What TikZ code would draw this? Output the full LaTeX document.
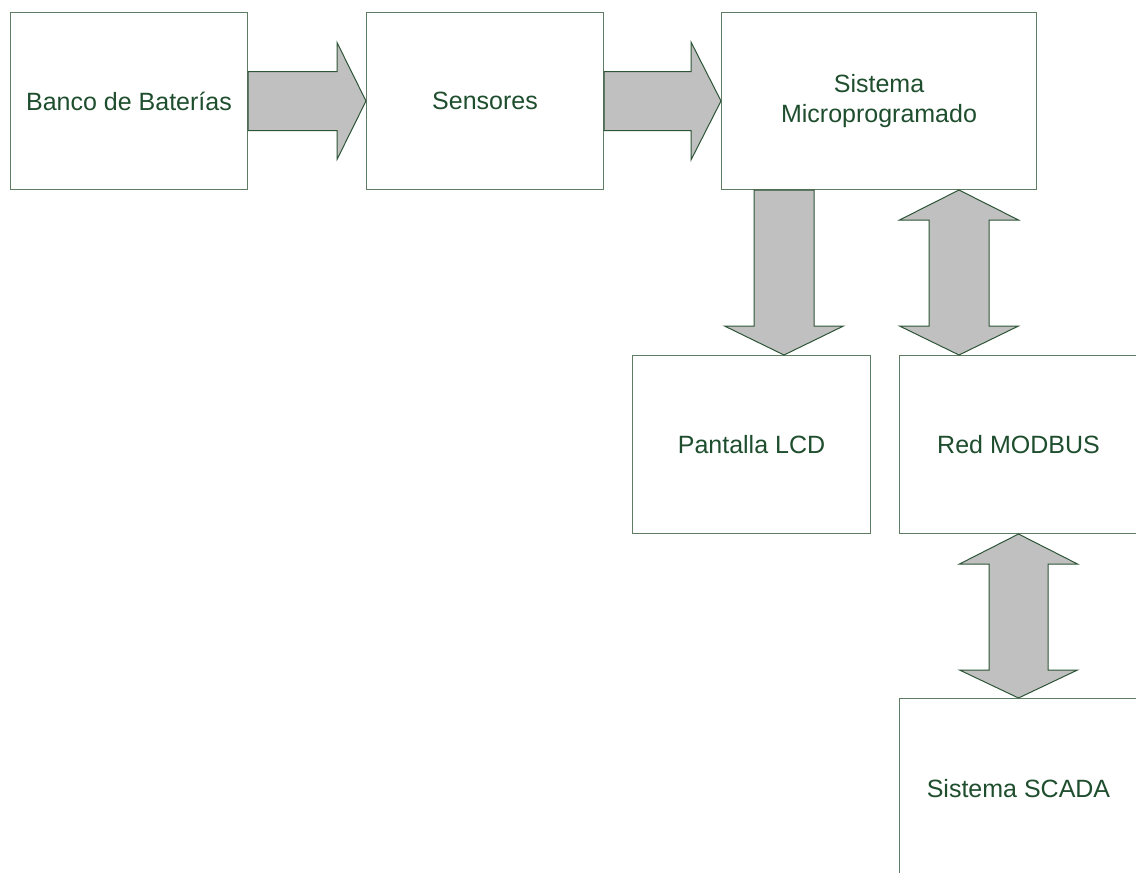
\documentclass[tikz,border=0pt]{standalone}
\usepackage{fontspec}
\setmainfont{Liberation Sans}
\usetikzlibrary{calc}
\definecolor{txtgreen}{RGB}{30,78,45}
\definecolor{boxline}{RGB}{95,125,100}
\definecolor{arrowline}{RGB}{45,85,55}
\definecolor{arrowfill}{RGB}{192,192,192}
\begin{document}
\begin{tikzpicture}[x=1pt,y=-1pt,
  block/.style={draw=boxline,line width=1pt,fill=white,anchor=north west,
    inner sep=0pt,text=txtgreen,font=\fontsize{25}{30}\selectfont,align=center},
  blockarrow/.style={draw=arrowline,fill=arrowfill,line width=1pt,line join=miter}]
\useasboundingbox (0,0) rectangle (1136,873);
\clip (0,0) rectangle (1136,873);
\fill[white] (0,0) rectangle (1136,873);

% blocks
\node[block,minimum width=237pt,minimum height=177pt] (bank) at (10,12) {Banco de Baterías};
\node[block,minimum width=237pt,minimum height=177pt] (sens) at (366,12) {Sensores};
\node[block,minimum width=315pt,minimum height=177pt] (micro) at (721,12) {Sistema\\Microprogramado};
\node[block,minimum width=238pt,minimum height=178pt] (lcd) at (632,355) {Pantalla LCD};
\node[block,minimum width=238pt,minimum height=178pt] (modbus) at (899,355) {Red MODBUS};
\node[block,minimum width=238pt,minimum height=180pt] (scada) at (899,698) {Sistema SCADA};

% horizontal block arrows
\draw[blockarrow] ($(bank.east)+(0,-29.5)$) -- ($(sens.west)+(-29,-29.5)$)
  -- ($(sens.west)+(-29,-58.5)$) -- (sens.west) -- ($(sens.west)+(-29,58.5)$)
  -- ($(sens.west)+(-29,29.5)$) -- ($(bank.east)+(0,29.5)$) -- cycle;
\draw[blockarrow] ($(sens.east)+(0,-29.5)$) -- ($(micro.west)+(-30,-29.5)$)
  -- ($(micro.west)+(-30,-59)$) -- (micro.west) -- ($(micro.west)+(-30,59)$)
  -- ($(micro.west)+(-30,29.5)$) -- ($(sens.east)+(0,29.5)$) -- cycle;

% down arrow to the display
\coordinate (lcdtail) at ($(micro.south west)+(63,0)$);
\coordinate (lcdtip) at (lcdtail |- lcd.north);
\draw[blockarrow] ($(lcdtail)+(-30,0)$) -- ($(lcdtip)+(-30,-29)$)
  -- ($(lcdtip)+(-59.5,-29)$) -- (lcdtip) -- ($(lcdtip)+(59.5,-29)$)
  -- ($(lcdtip)+(30,-29)$) -- ($(lcdtail)+(30,0)$) -- cycle;

% double arrow between controller and network
\coordinate (nb) at ($(modbus.north west)+(60,0)$);
\coordinate (nt) at (nb |- micro.south);
\draw[blockarrow] (nt) -- ($(nt)+(59.5,30)$) -- ($(nt)+(30,30)$)
  -- ($(nb)+(30,-29)$) -- ($(nb)+(59.5,-29)$) -- (nb)
  -- ($(nb)+(-59.5,-29)$) -- ($(nb)+(-30,-29)$)
  -- ($(nt)+(-30,30)$) -- ($(nt)+(-59.5,30)$) -- cycle;

% double arrow between network and SCADA
\draw[blockarrow] (modbus.south) -- ($(modbus.south)+(59,30)$) -- ($(modbus.south)+(29.5,30)$)
  -- ($(scada.north)+(29.5,-28)$) -- ($(scada.north)+(59,-28)$) -- (scada.north)
  -- ($(scada.north)+(-59,-28)$) -- ($(scada.north)+(-29.5,-28)$)
  -- ($(modbus.south)+(-29.5,30)$) -- ($(modbus.south)+(-59,30)$) -- cycle;
\end{tikzpicture}
\end{document}
